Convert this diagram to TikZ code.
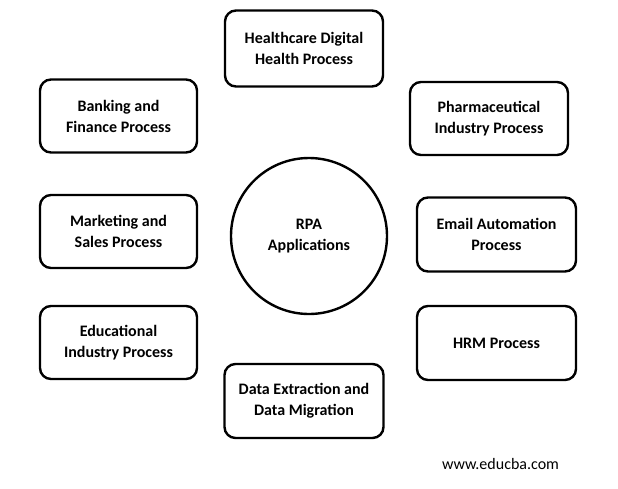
\documentclass[tikz,border=0pt]{standalone}
\usepackage{fontspec}
\setmainfont{Carlito}
\begin{document}
\begin{tikzpicture}[x=1pt,y=-1pt,
  box/.style={draw=black,line width=2.4pt,rounded corners=11pt,fill=white,
    align=center,inner sep=0pt,font=\fontsize{16}{21}\selectfont\bfseries},
  hub/.style={draw=black,line width=2.4pt,circle,align=center,inner sep=0pt,
    minimum size=156pt,font=\fontsize{16}{21}\selectfont\bfseries}]
\useasboundingbox (0,0) rectangle (618,488);
\fill[white] (0,0) rectangle (618,488);
\node[box,minimum width=158pt,minimum height=76pt] (health) at (304,48.5) {Healthcare Digital\\Health Process};
\node[box,minimum width=157pt,minimum height=73pt] (bank) at (118.5,116) {Banking and\\Finance Process};
\node[box,minimum width=158pt,minimum height=73pt] (pharma) at (489,118.5) {Pharmaceutical\\Industry Process};
\node[box,minimum width=157pt,minimum height=73pt] (market) at (118.5,231.5) {Marketing and\\Sales Process};
\node[box,minimum width=159pt,minimum height=74pt] (email) at (496.5,234.5) {Email Automation\\Process};
\node[box,minimum width=157pt,minimum height=73pt] (edu) at (118.5,342.5) {Educational\\Industry Process};
\node[box,minimum width=159pt,minimum height=74pt] (hrm) at (496.5,343) {HRM Process};
\node[box,minimum width=159pt,minimum height=74pt] (data) at (304,401) {Data Extraction and\\Data Migration};
\node[hub] (rpa) at (309,236) {RPA\\Applications};
\node[font=\fontsize{16}{18}\selectfont,inner sep=0pt] (web) at (500.5,464) {www.educba.com};
\end{tikzpicture}
\end{document}
